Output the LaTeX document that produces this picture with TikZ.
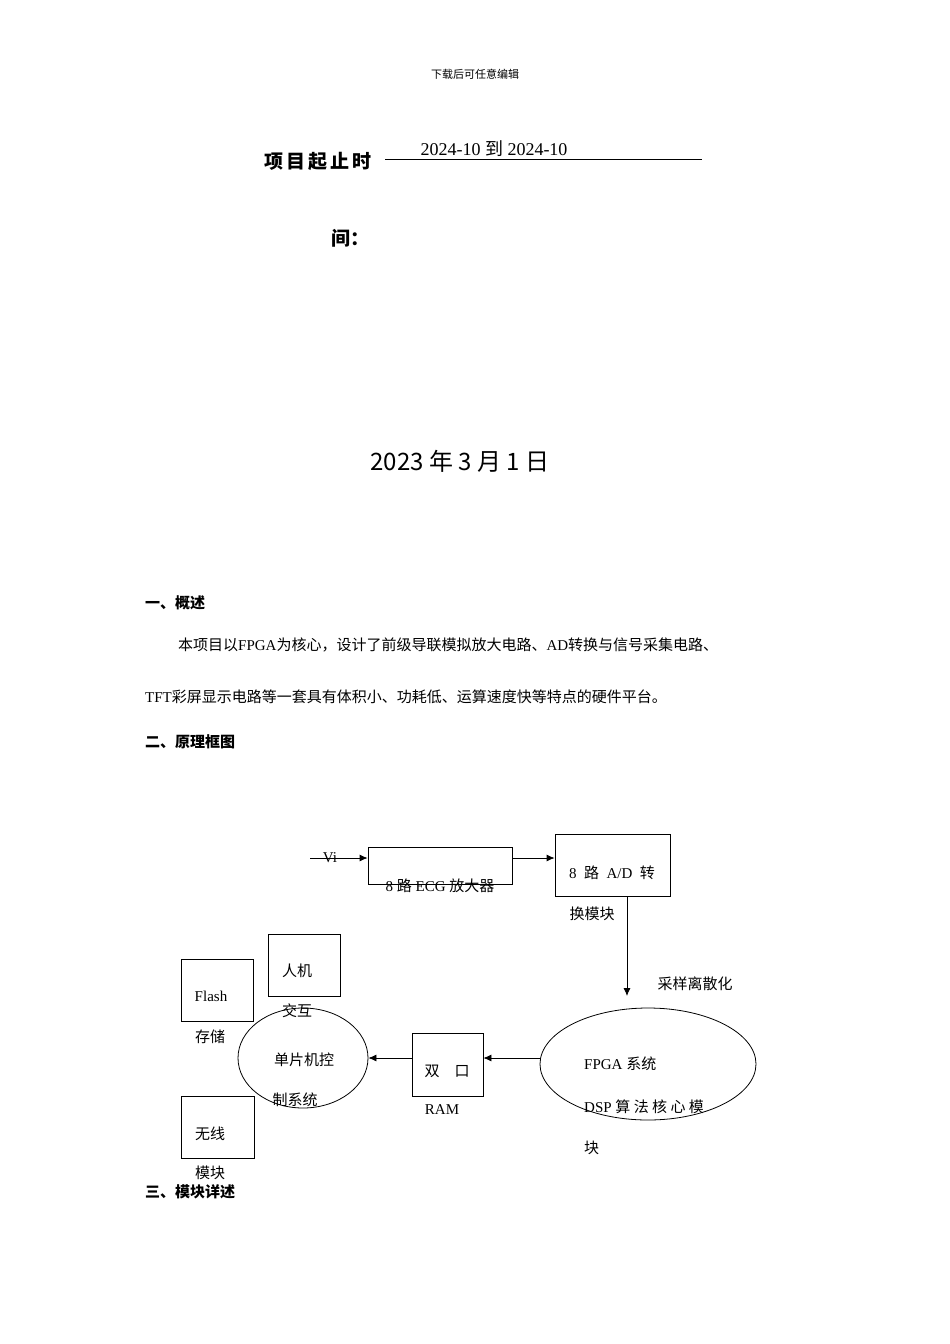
\documentclass[tikz,border=0pt]{standalone}
\usepackage{fontspec}
\setmainfont{Liberation Serif}
\newfontfamily\cjk{Noto Sans CJK SC}
\usetikzlibrary{arrows.meta,shapes.geometric}
\begin{document}
\begin{tikzpicture}[x=1pt,y=-1pt,
  txt/.style={inner sep=0pt,font=\fontsize{15}{18}\selectfont},
  bx/.style={draw,line width=0.8pt,inner sep=0pt},
  arr/.style={draw,line width=0.8pt,-{Latex[length=8pt,width=7pt]}}]
\useasboundingbox[fill=white] (0,0) rectangle (950,1344);
\node[txt,font=\fontsize{11}{13}\selectfont\cjk] (hd) at (475,74) {下载后可任意编辑};
\node[txt,font=\fontsize{19}{22}\selectfont\cjk\bfseries] (t1) at (318,161) {项\,目\,起\,止\,时};
\node[txt,font=\fontsize{19}{22}\selectfont\cjk\bfseries] (t2) at (350,238) {间：};
\coordinate (la) at (385,159); \coordinate (lb) at (702,159);
\draw[line width=0.6pt] (la) -- (lb);
\node[txt,font=\fontsize{18}{20}\selectfont] (dt) at (494,149) {2024-10 {\cjk 到} 2024-10};
\node[txt,font=\fontsize{24}{28}\selectfont\cjk] (dd) at (460,461) {2023 年 3 月 1 日};
\node[txt,anchor=west,font=\fontsize{15}{18}\selectfont\cjk\bfseries] (s1) at (145,603) {一、概述};
\node[txt,anchor=west] (p1) at (178,645) {{\cjk 本项目以}FPGA{\cjk 为核心，设计了前级导联模拟放大电路、}AD{\cjk 转换与信号采集电路、}};
\node[txt,anchor=west] (p2) at (145,697) {TFT{\cjk 彩屏显示电路等一套具有体积小、功耗低、运算速度快等特点的硬件平台。}};
\node[txt,anchor=west,font=\fontsize{15}{18}\selectfont\cjk\bfseries] (s2) at (145,742) {二、原理框图};
\node[txt,anchor=west,font=\fontsize{15}{18}\selectfont\cjk\bfseries] (s3) at (145,1192) {三、模块详述};
% diagram
\coordinate (vs) at (310,858);
\node[bx,minimum width=144pt,minimum height=37pt] (ecg) at (440,865.5) {};
\node[txt] at (330,858) {Vi};
\node[txt] at (440,886) {8 {\cjk 路} ECG {\cjk 放大器}};
\draw[arr] (vs) -- (ecg.west|-vs);
\node[bx,minimum width=115pt,minimum height=62pt] (ad) at (612.5,865) {};
\draw[arr] (ecg.east|-vs) -- (ad.west|-vs);
\node[txt] at (612,873) {8\ \ {\cjk 路}\ \ A/D\ \ {\cjk 转}};
\node[txt,font=\fontsize{15}{18}\selectfont\cjk] at (592,914) {换模块};
\node[draw,ellipse,line width=0.8pt,minimum width=216pt,minimum height=112pt] (fp) at (648,1064) {};
\coordinate (adb) at (627,896);
\coordinate (fpt) at (627,996);
\draw[arr] (adb) -- (fpt);
\node[txt,font=\fontsize{15}{18}\selectfont\cjk] at (695,984) {采样离散化};
\node[txt,anchor=west] at (584,1064) {FPGA {\cjk 系统}};
\node[txt,anchor=west] at (584,1107) {DSP\ {\cjk 算\ 法\ 核\ 心\ 模}};
\node[txt,anchor=west,font=\fontsize{15}{18}\selectfont\cjk] at (584,1148) {块};
\node[bx,minimum width=71pt,minimum height=63pt] (ram) at (447.5,1064.5) {};
\draw[arr] (fp.west|-0,1058) -- (ram.east|-0,1058);
\node[txt,font=\fontsize{15}{18}\selectfont\cjk] at (447,1071) {双\quad 口};
\node[txt] at (442,1110) {RAM};
\node[draw,ellipse,line width=0.8pt,minimum width=130pt,minimum height=100pt] (mcu) at (303,1058) {};
\draw[arr] (ram.west|-0,1058) -- (mcu.east);
\node[txt,font=\fontsize{15}{18}\selectfont\cjk] at (304,1060) {单片机控};
\node[txt,font=\fontsize{15}{18}\selectfont\cjk] at (295,1100) {制系统};
\node[bx,minimum width=72pt,minimum height=62pt] (fl) at (217,990) {};
\node[txt] at (211,996) {Flash};
\node[txt,font=\fontsize{15}{18}\selectfont\cjk] at (210,1037) {存储};
\node[bx,minimum width=72pt,minimum height=62pt] (hm) at (304,965) {};
\node[txt,font=\fontsize{15}{18}\selectfont\cjk] at (297,971) {人机};
\node[txt,font=\fontsize{15}{18}\selectfont\cjk] at (297,1011) {交互};
\node[bx,minimum width=73pt,minimum height=62pt] (wl) at (217.5,1127) {};
\node[txt,font=\fontsize{15}{18}\selectfont\cjk] at (210,1134) {无线};
\node[txt,font=\fontsize{15}{18}\selectfont\cjk] at (210,1173) {模块};
\end{tikzpicture}
\end{document}
